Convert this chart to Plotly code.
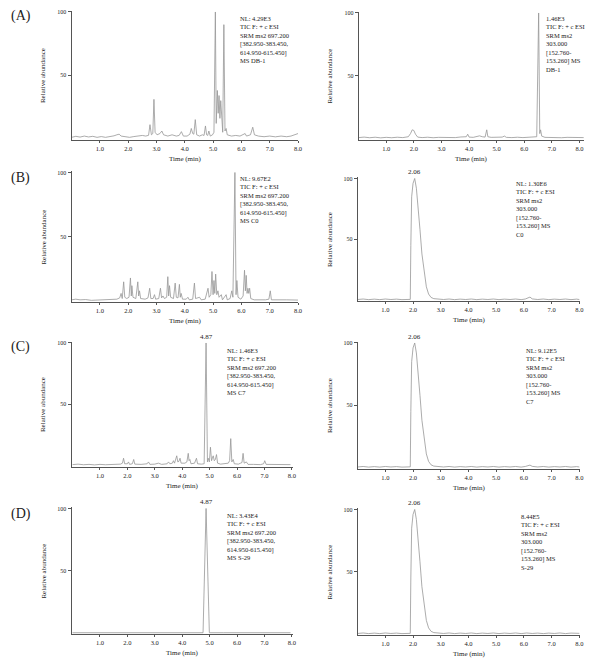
import plotly.graph_objects as go

# ---------------- data (time in min, relative abundance %) ----------------
A_dbmix = [(0.00,1.0),(0.15,1.8),(0.30,1.2),(0.45,2.0),(0.60,1.3),(0.75,1.8),(0.90,1.0),(1.05,1.6),(1.20,1.0),(1.35,1.5),
           (1.50,2.2),(1.60,3.0),(1.68,3.5),(1.75,2.0),(1.90,1.4),(2.05,1.0),(2.20,1.6),(2.35,2.2),(2.50,2.5),(2.62,2.0),
           (2.72,2.6),(2.77,11),(2.82,3.0),(2.87,4.0),(2.91,31),(2.95,5),(3.02,3.0),(3.12,4.0),(3.19,6.0),(3.25,3.0),
           (3.40,2.0),(3.55,3.0),(3.70,2.0),(3.80,2.5),(3.88,5.5),(3.95,2.0),(4.08,2.0),(4.18,3.5),(4.23,8.0),(4.28,4.0),
           (4.32,3.5),(4.37,15),(4.42,3.0),(4.52,2.0),(4.62,3.0),(4.68,2.5),(4.73,10),(4.77,3.0),(4.81,2.5),(4.85,6.0),
           (4.90,2.0),(4.98,3.0),(5.03,5.0),(5.08,100),(5.11,12),(5.15,38),(5.18,20),(5.21,34),(5.24,16),(5.27,30),
           (5.31,8),(5.34,5),(5.38,90),(5.42,6),(5.46,8),(5.50,3),(5.65,2.0),(5.80,2.5),(5.95,2.0),(6.08,3.0),
           (6.13,4.0),(6.18,2.0),(6.32,3.0),(6.40,9.0),(6.46,3.0),(6.60,2.0),(6.80,1.5),(7.00,2.0),(7.20,1.4),(7.40,2.0),
           (7.60,1.5),(7.75,2.0),(7.88,3.0),(8.00,4.0)]

A_is = [(0.00,0.8),(0.20,1.2),(0.40,0.7),(0.60,1.1),(0.80,0.6),(1.00,1.0),(1.20,0.7),(1.40,1.1),(1.60,0.8),(1.80,1.5),
        (1.88,4.0),(1.94,7.0),(2.00,6.5),(2.06,3.5),(2.14,1.2),(2.30,0.8),(2.50,1.1),(2.70,0.7),(2.90,1.0),(3.10,0.8),
        (3.30,1.2),(3.50,0.8),(3.70,1.3),(3.90,1.5),(3.95,3.5),(4.00,1.2),(4.15,1.0),(4.28,1.8),(4.38,2.2),(4.48,1.5),
        (4.58,1.2),(4.64,7.0),(4.68,1.5),(4.80,1.0),(5.00,0.8),(5.20,1.2),(5.28,2.0),(5.35,1.0),(5.55,0.8),(5.75,1.1),
        (5.95,0.8),(6.15,1.0),(6.35,0.9),(6.45,1.5),(6.52,100),(6.56,4.0),(6.59,7.0),(6.63,2.0),(6.75,1.0),(6.95,0.8),
        (7.15,1.1),(7.35,0.7),(7.55,1.0),(7.75,0.8),(7.95,1.1),(8.15,0.8)]

B_c0 = [(0.00,1.0),(0.15,1.5),(0.30,1.0),(0.50,1.2),(0.70,0.6),(0.90,0.8),(1.10,0.6),(1.30,0.9),(1.45,1.2),(1.60,1.5),
        (1.70,2.5),(1.75,6.0),(1.79,2.0),(1.84,15),(1.88,3.0),(1.95,2.0),(2.03,3.0),(2.08,18),(2.11,4.0),(2.13,12),
        (2.17,3.0),(2.27,2.0),(2.34,15),(2.37,4.0),(2.40,8.0),(2.44,2.0),(2.60,1.5),(2.70,2.5),(2.76,10),(2.80,2.0),
        (2.88,2.0),(2.93,5.0),(2.97,1.5),(3.08,2.0),(3.14,10),(3.18,2.5),(3.23,4.0),(3.28,2.0),(3.36,3.0),(3.40,19),
        (3.43,4.0),(3.46,12),(3.50,3.0),(3.60,2.0),(3.66,14),(3.70,3.0),(3.76,2.5),(3.81,13),(3.84,3.0),(3.87,6.0),
        (3.92,1.5),(4.05,1.5),(4.11,3.0),(4.16,1.0),(4.28,1.5),(4.34,14),(4.38,2.0),(4.52,3.0),(4.58,1.0),(4.72,1.5),
        (4.82,10),(4.86,3.0),(4.92,5.0),(4.96,23),(5.00,5.0),(5.03,16),(5.06,6.0),(5.09,21),(5.13,5.0),(5.17,8.0),
        (5.21,3.0),(5.29,5.0),(5.33,1.0),(5.46,5.0),(5.50,1.0),(5.60,2.0),(5.66,8.0),(5.70,3.0),(5.77,100),(5.81,5.0),
        (5.84,16),(5.88,3.0),(5.98,1.5),(6.06,4.0),(6.11,24),(6.14,8.0),(6.17,20),(6.20,6.0),(6.23,10),(6.26,6.0),
        (6.29,10),(6.33,2.0),(6.45,1.0),(6.65,0.8),(6.85,1.0),(6.97,1.5),(7.02,8.0),(7.06,1.0),(7.30,0.8),(7.60,1.0),
        (8.00,0.8)]

B_is = [(0.00,0.5),(0.20,0.9),(0.40,0.4),(0.60,0.8),(0.80,0.4),(1.00,0.9),(1.20,0.5),(1.40,0.8),(1.60,0.4),(1.80,0.7),
        (1.90,0.6),(1.92,45),(1.95,85),(2.00,96),(2.06,100),(2.12,92),(2.18,78),(2.25,58),(2.32,38),(2.40,22),
        (2.48,11),(2.56,5),(2.65,2.2),(2.75,1.2),(2.90,0.8),(3.10,0.5),(3.30,0.9),(3.50,0.4),(3.70,0.8),(3.90,0.5),
        (4.10,0.9),(4.30,0.4),(4.50,0.8),(4.70,0.5),(4.90,0.9),(5.10,0.4),(5.30,0.8),(5.50,0.5),(5.70,0.9),(5.90,0.4),
        (6.05,0.9),(6.15,1.8),(6.22,2.5),(6.30,1.0),(6.50,0.5),(6.70,0.9),(6.90,0.4),(7.10,0.8),(7.30,0.5),(7.50,0.9),
        (7.70,0.4),(7.90,0.8),(8.00,0.5)]

C_c7 = [(0.00,0.8),(0.20,1.2),(0.40,0.7),(0.60,1.0),(0.80,0.6),(1.00,1.0),(1.20,0.7),(1.40,1.0),(1.60,0.8),(1.75,1.2),
        (1.82,2.0),(1.86,6.0),(1.90,1.5),(2.00,1.5),(2.04,3.0),(2.08,1.0),(2.18,1.5),(2.23,5.0),(2.27,1.2),(2.50,1.0),
        (2.72,1.5),(2.77,3.0),(2.82,1.0),(3.00,1.2),(3.13,2.0),(3.25,1.0),(3.45,1.5),(3.50,3.0),(3.55,1.5),(3.64,2.0),
        (3.68,4.0),(3.72,2.0),(3.80,8.0),(3.84,3.0),(3.88,3.5),(3.92,6.0),(3.96,2.0),(4.10,2.0),(4.17,3.0),(4.22,10),
        (4.25,4.0),(4.28,5.0),(4.32,1.5),(4.45,2.0),(4.52,6.0),(4.56,1.5),(4.70,1.2),(4.80,1.5),(4.87,100),(4.92,3.0),
        (4.95,6.0),(4.99,3.0),(5.03,15),(5.07,4.0),(5.10,6.0),(5.13,8.0),(5.17,4.0),(5.21,5.0),(5.25,9.0),(5.29,2.0),
        (5.40,1.2),(5.55,1.5),(5.68,2.0),(5.73,4.0),(5.77,22),(5.81,3.0),(5.86,5.0),(5.90,1.5),(6.05,1.2),(6.13,2.0),
        (6.18,2.5),(6.22,10),(6.26,2.0),(6.34,3.0),(6.40,1.0),(6.60,1.0),(6.85,0.8),(6.97,1.5),(7.01,4.0),(7.06,1.0),
        (7.30,0.8),(7.60,1.0),(7.95,0.8)]

C_is = [(0.00,0.5),(0.20,0.9),(0.40,0.4),(0.60,0.8),(0.80,0.4),(1.00,0.9),(1.20,0.5),(1.40,0.8),(1.60,0.4),(1.80,0.7),
        (1.90,0.6),(1.92,45),(1.95,85),(2.00,96),(2.06,100),(2.12,92),(2.18,78),(2.25,58),(2.32,38),(2.40,22),
        (2.48,11),(2.56,5),(2.65,2.2),(2.75,1.2),(2.90,0.8),(3.10,0.5),(3.30,0.9),(3.50,0.4),(3.70,0.8),(3.90,0.5),
        (4.10,0.9),(4.30,0.4),(4.50,0.8),(4.70,0.5),(4.90,0.9),(5.10,0.4),(5.30,0.8),(5.50,0.5),(5.70,0.9),(5.90,0.4),
        (6.05,0.9),(6.15,1.6),(6.22,2.0),(6.30,1.0),(6.50,0.5),(6.70,0.9),(6.90,0.4),(7.10,0.8),(7.30,0.5),(7.50,0.9),
        (7.70,0.4),(7.90,0.8),(8.00,0.5)]

D_s29 = [(0.00,0.3),(1.00,0.3),(2.00,0.3),(3.00,0.3),(4.00,0.3),(4.76,0.3),(4.87,100),(4.99,0.3),(5.50,0.3),
         (6.00,0.3),(7.00,0.3),(7.95,0.3)]

D_is = [(0.00,0.5),(0.20,0.9),(0.40,0.4),(0.60,0.8),(0.80,0.4),(1.00,0.9),(1.20,0.5),(1.40,0.8),(1.60,0.4),(1.80,0.7),
        (1.90,0.6),(1.92,45),(1.95,85),(2.00,96),(2.06,100),(2.12,92),(2.18,78),(2.25,58),(2.32,38),(2.40,22),
        (2.48,11),(2.56,5),(2.65,2.2),(2.75,1.2),(2.90,0.8),(3.10,0.5),(3.30,0.9),(3.50,0.4),(3.70,0.8),(3.90,0.5),
        (4.10,0.9),(4.30,0.4),(4.50,0.8),(4.70,0.5),(4.90,0.9),(5.10,0.4),(5.30,0.8),(5.50,0.5),(5.70,0.9),(5.90,0.4),
        (6.10,0.9),(6.30,0.5),(6.50,0.8),(6.70,0.4),(6.90,0.8),(7.10,0.5),(7.30,0.9),(7.50,0.4),(7.70,0.8),(7.90,0.5),
        (8.00,0.6)]

x_tick_vals = [1, 2, 3, 4, 5, 6, 7, 8]
x_tick_text = ["1.0", "2.0", "3.0", "4.0", "5.0", "6.0", "7.0", "8.0"]
y_tick_vals = [50, 100]
y_tick_text = ["50", "100"]

info_texts = [
    "NL: 4.29E3<br>TIC F: + c ESI<br>SRM ms2 697.200<br>[382.950-383.450,<br>614.950-615.450]<br>MS DB-1",
    "1.46E3<br>TIC F: + c ESI<br>SRM ms2<br>303.000<br>[152.760-<br>153.260] MS<br>DB-1",
    "NL: 9.67E2<br>TIC F: + c ESI<br>SRM ms2 697.200<br>[382.950-383.450,<br>614.950-615.450]<br>MS C0",
    "NL: 1.30E6<br>TIC F: + c ESI<br>SRM ms2<br>303.000<br>[152.760-<br>153.260] MS<br>C0",
    "NL: 1.46E3<br>TIC F: + c ESI<br>SRM ms2 697.200<br>[382.950-383.450,<br>614.950-615.450]<br>MS C7",
    "NL: 9.12E5<br>TIC F: + c ESI<br>SRM ms2<br>303.000<br>[152.760-<br>153.260] MS<br>C7",
    "NL: 3.43E4<br>TIC F: + c ESI<br>SRM ms2 697.200<br>[382.950-383.450,<br>614.950-615.450]<br>MS S-29",
    "8.44E5<br>TIC F: + c ESI<br>SRM ms2<br>303.000<br>[152.760-<br>153.260] MS<br>S-29",
]
peak_labels = [None, None, None, ("2.06", 2.06), ("4.87", 4.87), ("2.06", 2.06), ("4.87", 4.87), ("2.06", 2.06)]
panel_letters = ["(A)", "(B)", "(C)", "(D)"]
series = [A_dbmix, A_is, B_c0, B_is, C_c7, C_is, D_s29, D_is]

# ---------------- layout geometry (pixels in the 601x666 window) ----------------
W, H = 601, 666
OFF = 8  # default page body margin
FW, FH = W - OFF, H - OFF
FONT = "Liberation Serif"
TXT = "#222222"
# p0: pixel of t=0, slope: px per min, xl/xr: axis ends, y100/y0: pixel rows of 100 and 0
geom = [
    dict(p0=72, slope=28.5, xl=72, xr=300, y100=10, y0=137, info=(240, 11), ytit=44),
    dict(p0=361, slope=27.8, xl=361, xr=588, y100=11, y0=137, info=(548, 11), ytit=332),
    dict(p0=72, slope=28.5, xl=72, xr=300, y100=171, y0=300, info=(240, 171), ytit=44),
    dict(p0=360, slope=27.9, xl=360, xr=584, y100=177, y0=299, info=(517, 177), ytit=332),
    dict(p0=73, slope=27.6, xl=72, xr=295, y100=342, y0=465, info=(226, 344), ytit=44),
    dict(p0=360, slope=27.9, xl=360, xr=584, y100=342, y0=467, info=(528, 344), ytit=332),
    dict(p0=73, slope=27.6, xl=72, xr=295, y100=508, y0=633, info=(226, 510), ytit=44),
    dict(p0=360, slope=27.9, xl=360, xr=584, y100=509, y0=634, info=(522, 511), ytit=332),
]
letter_pos = [(21, 14), (21, 177), (21, 346), (21, 514)]

fig = go.Figure()
annotations = []
layout = dict(
    width=FW, height=FH, margin=dict(l=0, r=0, t=0, b=0, pad=0),
    paper_bgcolor="white", plot_bgcolor="white", showlegend=False,
    font=dict(family=FONT, color=TXT, size=7),
)

def px(xp):
    return (xp - OFF) / FW

def py(yp):
    return 1 - (yp - OFF) / FH

for i, (pts, g) in enumerate(zip(series, geom)):
    n = i + 1
    xa = "xaxis" if n == 1 else f"xaxis{n}"
    ya = "yaxis" if n == 1 else f"yaxis{n}"
    xr_ = "x" if n == 1 else f"x{n}"
    yr_ = "y" if n == 1 else f"y{n}"
    t = [p[0] for p in pts]
    h = [p[1] for p in pts]
    fig.add_trace(go.Scatter(x=t, y=h, mode="lines", xaxis=xr_, yaxis=yr_,
                             line=dict(color="#979797", width=0.8), hoverinfo="skip"))
    s = (g["y0"] - g["y100"]) / 100.0
    top_px = g["y100"] - 1 * s
    bot_px = g["y0"] + 1 * s
    layout[xa] = dict(
        domain=[px(g["xl"]), px(g["xr"])],
        range=[(g["xl"] - g["p0"]) / g["slope"], (g["xr"] - g["p0"]) / g["slope"]],
        anchor=yr_, showline=True, linecolor="#555", linewidth=1, showgrid=False, zeroline=False,
        ticks="outside", ticklen=2, tickwidth=1, tickcolor="#555",
        tickvals=x_tick_vals, ticktext=x_tick_text, tickfont=dict(size=6.5, family=FONT, color=TXT),
        ticklabelstandoff=0,
    )
    layout[ya] = dict(
        domain=[py(bot_px), py(top_px)], range=[-1, 101], anchor=xr_,
        showline=True, linecolor="#555", linewidth=1, showgrid=False, zeroline=False,
        ticks="outside", ticklen=3, tickwidth=1, tickcolor="#555",
        tickvals=y_tick_vals, ticktext=y_tick_text, tickfont=dict(size=6, family=FONT, color=TXT),
    )
    # x title
    annotations.append(dict(text="Time (min)", x=px((g["xl"] + g["xr"]) / 2), y=py(g["y0"] + 20),
                            xref="paper", yref="paper", xanchor="center", yanchor="middle", showarrow=False,
                            font=dict(size=7, family=FONT, color=TXT)))
    # y title
    annotations.append(dict(text="Relative abundance", x=px(g["ytit"]), y=py((g["y100"] + g["y0"]) / 2),
                            xref="paper", yref="paper", xanchor="center", yanchor="middle",
                            showarrow=False, textangle=-90, font=dict(size=7, family=FONT, color=TXT)))
    # info box
    ix, iy = g["info"]
    annotations.append(dict(text=info_texts[i], x=px(ix), y=py(iy), xref="paper", yref="paper",
                            xanchor="left", yanchor="top", align="left", showarrow=False,
                            font=dict(size=6.5, family=FONT, color=TXT)))
    # peak label
    if peak_labels[i] is not None:
        lab, tp = peak_labels[i]
        annotations.append(dict(text=lab, x=tp, y=100, xref=xr_, yref=yr_, xanchor="center", yanchor="bottom",
                                showarrow=False, font=dict(size=7, family=FONT, color=TXT)))

for lab, (lx, ly) in zip(panel_letters, letter_pos):
    annotations.append(dict(text=lab, x=px(lx), y=py(ly), xref="paper", yref="paper",
                            xanchor="center", yanchor="middle", showarrow=False,
                            font=dict(size=14, family=FONT, color=TXT)))

layout["annotations"] = annotations
fig.update_layout(**layout)
fig.write_html("out.html")
